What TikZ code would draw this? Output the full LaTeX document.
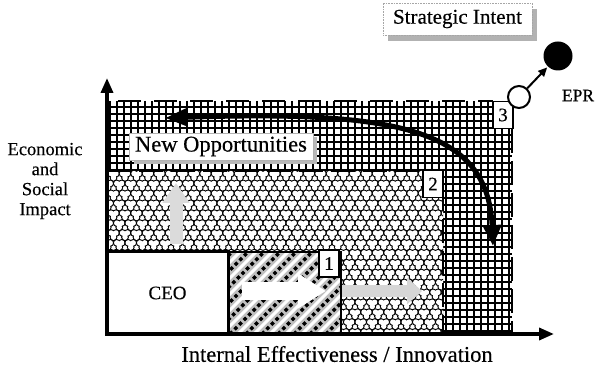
\documentclass[tikz,border=0pt]{standalone}
\usepackage{fontspec}
\setmainfont{Liberation Serif}[FakeBold=0.35]
\usetikzlibrary{arrows.meta}
\begin{document}
\begin{tikzpicture}[x=1pt,y=-1pt,
  numbox/.style={draw=black,line width=1.2pt,fill=white,minimum width=20pt,
    minimum height=27pt,inner sep=0pt,font=\fontsize{19}{19}\selectfont},
  regionedge/.style={line width=2pt,dash pattern=on 24pt off 8pt},
  titlebox/.style={fill=white,draw=gray!70,line width=0.6pt,densely dotted,
    inner sep=0pt,font=\fontsize{21}{24}\selectfont},
  labeltext/.style={font=\fontsize{18.5}{20}\selectfont,align=center}
]
\useasboundingbox (0,0) rectangle (598,366);

% ---- zone 3: square grid --------------------------------------------
\begin{scope}
  \clip (107,101) rectangle (512,334);
  \fill[white] (107,101) rectangle (512,334);
  \foreach \x in {110,117,...,512}
    \draw[line width=1.3pt] (\x,101) -- (\x,334);
  \foreach \y in {107,114,...,334}
    \draw[line width=1.3pt] (107,\y) -- (512,\y);
\end{scope}

% ---- zone 2: trefoil tiling -----------------------------------------
\begin{scope}
  \clip (107,171) rectangle (443,334);
  \fill[white] (107,171) rectangle (443,334);
  \foreach \r in {0,...,17}{
    \foreach \c in {0,...,30}{
      \pgfmathsetmacro\px{102+11.5*\c+5.75*mod(\r,2)}
      \pgfmathsetmacro\py{175+9.9*\r}
      \fill[black] (\px-2.47,\py-1.43) circle[radius=3.9pt]
                   (\px+2.47,\py-1.43) circle[radius=3.9pt]
                   (\px,\py+2.86) circle[radius=3.9pt]
                   (\px,\py) circle[radius=4.1pt];
      \fill[white] (\px-2.47,\py-1.43) circle[radius=2.75pt]
                   (\px+2.47,\py-1.43) circle[radius=2.75pt]
                   (\px,\py+2.86) circle[radius=2.75pt]
                   (\px,\py) circle[radius=2.97pt];
    }
  }
\end{scope}

% ---- zone 1: diagonal hatching --------------------------------------
\begin{scope}
  \clip (228,252) rectangle (341,334);
  \fill[gray!50] (228,252) rectangle (341,334);
  \foreach \k in {0,...,14}{
    \draw[white,line width=3pt] (150+16*\k+8,334) -- ++(100,-100);
    \draw[black,line width=3.5pt,dash pattern=on 3.5pt off 3pt] (150+16*\k,334) -- ++(100,-100);
  }
\end{scope}

% ---- zone borders ---------------------------------------------------
\draw[line width=2pt,dash pattern=on 23pt off 13pt,dash phase=25pt] (107,101) -- (493,101);
\draw[regionedge] (512,129) -- (512,334);
\draw[regionedge] (107,171) -- (443,171) -- (443,334);
\draw[line width=2.5pt] (228,334) -- (228,252) -- (341,252) -- (341,334);

% ---- CEO block ------------------------------------------------------
\node[draw,line width=3pt,fill=white,minimum width=121pt,minimum height=82pt,
  inner sep=0pt,font=\fontsize{19}{20}\selectfont] (ceo) at (167.5,293) {CEO};

% ---- movement arrows inside the zones -------------------------------
\coordinate (upfrom) at (176,244);
\coordinate (upto) at (176,183);
\draw[gray!28,line width=13pt,-{Triangle[length=20pt,width=26pt]}] (upfrom) -- (upto);
\coordinate (wfrom) at (242,291);
\coordinate (wto) at (326,291);
\draw[white,line width=18pt,-{Triangle[length=28pt,width=33pt]}] (wfrom) -- (wto);
\coordinate (gfrom) at (342,291);
\coordinate (gto) at (422,291);
\draw[gray!32,line width=12pt,-{Triangle[length=15pt,width=26pt]}] (gfrom) -- (gto);

% ---- axes -----------------------------------------------------------
\coordinate (O) at (107,334);
\coordinate (ytip) at (107,78);
\coordinate (xtip) at (554,334);
\draw[line width=3.5pt,{Triangle[length=15pt,width=12pt]}-{Triangle[length=15pt,width=12pt]}]
  (ytip) -- (O) -- (xtip);

% ---- zone numbers ---------------------------------------------------
\node[numbox] (n1) at (329,263.5) {1};
\node[numbox] (n2) at (433,184) {2};
\node[numbox] (n3) at (503,115) {3};

% ---- expansion arrow ------------------------------------------------
\coordinate (leftend) at (165,118);
\coordinate (downend) at (493,246);
\draw[line width=5pt,{Triangle[length=22pt,width=17pt]}-{Triangle[length=21pt,width=18pt]}]
  (leftend) .. controls (400,110) and (488,130) .. (downend);

% ---- captions -------------------------------------------------------
\fill[gray!55] (134,137) rectangle (317,164);
\node[titlebox,draw=gray!60,solid,minimum width=184pt,minimum height=27pt,
  font=\fontsize{22.5}{24}\selectfont] (newopp) at (221,146.5) {New Opportunities};

\fill[gray!60] (388,9) rectangle (537,41);
\node[titlebox,minimum width=149pt,minimum height=32pt] (intent) at (457.5,19) {Strategic Intent};

% ---- EPR target -----------------------------------------------------
\node[circle,draw,line width=2pt,fill=white,minimum size=22pt,inner sep=0pt] (wc) at (519,97) {};
\node[circle,fill=black,minimum size=29pt,inner sep=0pt] (bc) at (558,56) {};
\draw[line width=2pt,-{Triangle[length=9pt,width=8pt]},shorten >=1pt] (wc) -- (bc);
\node[font=\fontsize{17.5}{20}\selectfont] (epr) at (578,95.5) {EPR};

% ---- axis labels ----------------------------------------------------
\node[labeltext] (ylab) at (45,181) {Economic\\and\\Social\\Impact};
\node[font=\fontsize{22.5}{24}\selectfont] (xlab) at (337,354) {Internal Effectiveness / Innovation};
\end{tikzpicture}
\end{document}
